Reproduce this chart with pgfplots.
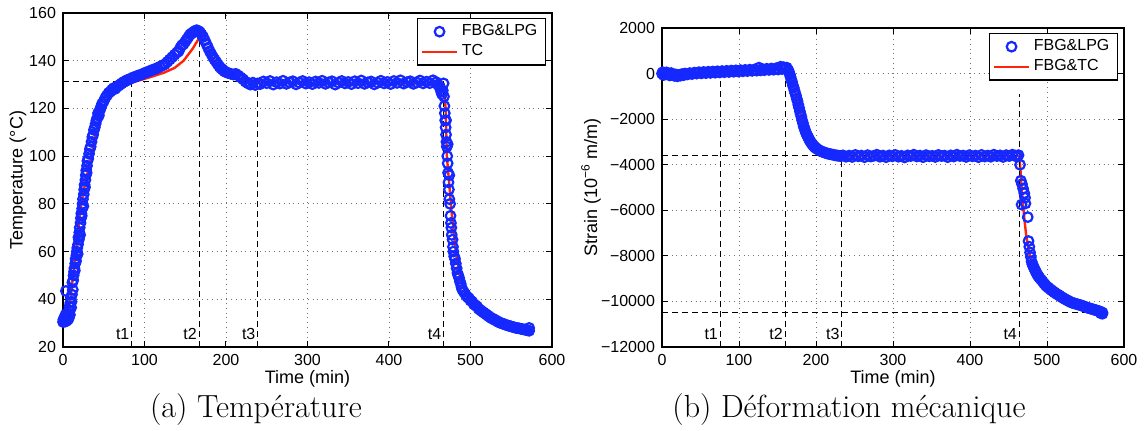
\documentclass[border=0pt]{standalone}
\usepackage{pgfplots}
\pgfplotsset{compat=1.18}
\usepackage{fontspec}
\newfontfamily\axfont{Liberation Sans}
\definecolor{mblue}{RGB}{20,40,255}
\definecolor{mred}{RGB}{255,35,10}
\tikzset{tlab/.style={font=\axfont\fontsize{8}{10}\selectfont, anchor=east, inner sep=1pt}}
\pgfplotsset{
 mlab/.style={
  scale only axis, xmin=0, xmax=600, xtick={0,100,...,600},
  grid=major, grid style={dotted, black!55, line width=0.45pt},
  tick align=inside, major tick length=3pt,
  axis line style={line width=0.6pt}, every tick/.style={black, line width=0.5pt},
  tick label style={font=\axfont\fontsize{8}{10}\selectfont},
  label style={font=\axfont\fontsize{9}{11}\selectfont},
  /pgf/number format/assume math mode=true,
  /pgf/number format/1000 sep={},
  scaled ticks=false,
  xlabel={Time (min)},
  xlabel style={at={(axis description cs:0.5,0)}, anchor=center, yshift=-16pt},
  legend cell align=left,
  legend style={draw=black, line width=0.6pt, fill=white, font=\axfont\fontsize{8}{10}\selectfont, at={(1,1)}, anchor=north east, xshift=-3pt, yshift=-2.5pt, inner xsep=2pt, inner ysep=1pt, row sep=-1pt},
 },
 scatb/.style={only marks, mark=o, mark size=2.4pt, mark options={line width=1.1pt, draw=mblue}, color=mblue},
 redl/.style={mred, line width=1.2pt, no markers},
 dsh/.style={black, line width=0.6pt, dash pattern=on 3pt off 2pt, forget plot, no markers},
}
\begin{document}
\begin{tikzpicture}
\path[use as bounding box] (-31.5pt,-41.5pt) rectangle (541.5pt,173.5pt);
% ---------------- (a) Temperature ----------------
\begin{axis}[mlab, at={(0pt,0pt)}, anchor=south west, width=244.5pt, height=167pt,
  ymin=20, ymax=160, ytick={20,40,...,160},
  ylabel={Temperature (°C)},
  ylabel style={at={([xshift=-22.5pt]axis description cs:0,0.5)}, anchor=center}]
\addplot[scatb] coordinates {
(0,30.5) (0.5,31.5) (1,30.8) (1.5,32) (2,31.2) (2.5,30.6) (3,33.5) (3.5,43.5) (4,32.5) (4.5,31) (5,34) (5.5,32.2) (6,31.5) (6.5,33) (7,32) (7.5,35) (8,37) (8.5,33.5) (9,38.5) (9.5,40.5) (10,36.5) (10.5,39) (11,42) (11.5,47) (12,44) (12.5,48) (13,50) (13.5,51.5) (14,53) (14.5,52) (15,55) (15.5,57) (16,56) (16.5,58.5) (17,60) (17.5,61.5) (18,59) (18.5,63) (19,66) (19.5,65) (20,68) (20.5,70) (21,67) (21.5,72) (22,74) (22.5,76) (23,75) (23.5,78) (24,80) (24.5,82) (25,79) (25.5,84) (26,86) (26.5,88) (27,87) (27.5,90) (28,92) (28.5,94) (29,93) (29.5,96) (30,98) (31,99) (32,101) (33,103) (34,104) (35,106) (36,108) (37,109) (38,111) (39,112) (40,113.5) (41,115) (42,116) (43,118) (44,117) (45,119) (46,120) (47,121) (48,122) (50,123) (52,124.5) (54,125.5) (56,126.5) (58,127) (60,127.8) (62,128.5) (64,128.2) (66,129) (68,129.5) (70,130) (72,130.5) (74,131) (76,131.3) (78,131.8) (80,132) (83,132.5) (86,133) (89,133.3) (92,133.8) (95,134) (98,134.5) (101,135) (104,135.3) (107,135.8) (110,136.2) (113,136.5) (116,137) (119,137.5) (122,138) (125,138.5) (128,139.5) (131,140.5) (134,141.5) (137,142.5) (140,143.5) (142,144) (144,145.5) (146,146.5) (148,147) (150,148) (152,149) (154,150) (156,151) (158,151.5) (160,152) (162,152.5) (164,152.8) (166,152.5) (168,152) (170,151) (172,150) (174,148.5) (176,147) (178,145.5) (180,144) (182,142.8) (184,141.5) (186,140.5) (188,139.5) (190,138.5) (192,137.5) (194,136.8) (196,136.2) (198,135.6) (200,135.2) (203,134.8) (206,134.5) (209,134.2) (212,134.5) (215,133.8) (218,133) (221,132.2) (224,131.2) (227,130.5) (230,130) (233,130.8) (236,129.8) (239,130.5)
(242,130.2) (246,131.3) (250,130.6) (254,131.5) (258,130.0) (262,131.0) (266,130.4) (270,131.6) (274,130.3) (278,130.9) (282,131.4) (286,130.1) (290,130.8) (294,131.5) (298,130.4) (302,131.0) (306,130.2) (310,131.3) (314,130.7) (318,131.6) (322,130.3) (326,130.9) (330,131.4) (334,130.0) (338,130.8) (342,131.5) (346,130.5) (350,131.1) (354,130.2) (358,131.4) (362,130.6) (366,131.7) (370,130.3) (374,130.9) (378,131.3) (382,130.1) (386,130.8) (390,131.6) (394,130.5) (398,131.1) (402,130.2) (406,131.5) (410,130.7) (414,131.8) (418,130.4) (422,131.0) (426,131.4) (430,130.3) (434,130.9) (438,131.7) (442,130.5) (446,131.2) (450,130.6) (454,131.8) (458,131.0)
(460,130) (462,129) (463,128.5) (464,127) (465,126) (466,127.5) (467,130.5) (467.5,125) (468,121) (468.5,118) (469,115) (469.5,112) (470,109) (470,115) (470.5,106) (471,104) (471.5,100) (472,97) (472,105) (472.5,93) (473,89) (473.5,86) (474,82) (474,92) (475,80) (475.5,75) (476,72) (476.5,70) (477,67) (478,65) (478.5,62) (479,60) (480,58) (481,57) (482,55) (483,53) (484,51) (485,50) (486,49) (487,47.5) (488,46.5) (489,45) (490,44) (492,43) (494,42) (496,41) (498,40.5) (500,39.5) (502,39) (504,38) (506,37.5) (508,37) (510,36) (512,35.5) (514,35) (516,34.5) (518,34) (520,33.5) (522,33) (524,32.5) (526,32) (528,31.8) (530,31.3) (532,31) (534,30.5) (536,30.2) (538,30) (540,29.7) (542,29.5) (544,29.2) (546,29) (548,28.8) (550,28.6) (552,28.4) (554,28.2) (556,28) (558,27.9) (560,27.8) (562,27.6) (564,27.5) (566,27.3) (568,27.2) (570,27) (572,26.8) (572,28)
};
\addlegendentry{FBG\&LPG}
\addplot[redl] coordinates {
(3,31) (5,32) (7,36) (9.2,40) (12,49) (15.8,60) (19,70) (22.9,81) (28,90) (35,100) (40,110) (49,120) (58,125) (67,128) (78,130) (89,131.3) (106,133) (124,135) (137,137) (148,140) (159,145) (167,149.5) (174.5,145) (185.5,140) (196.5,136) (212,133) (229.5,131.5) (251,131) (300,130.5) (350,130.3) (400,130.6) (440,130.4) (467,130.3) (468.5,125) (469.5,120) (471,100) (475.6,81.7) (477,76) (479,70) (482,60) (486.6,50) (491,45) (498.5,40) (505,37.3) (513,35) (522,32.8) (533,31) (550,29) (560,28) (572,27)
};
\addlegendentry{TC}
\addplot[dsh] coordinates {(0,131.3) (467,131.3)};
\addplot[dsh] coordinates {(84.4,20) (84.4,131.3)};
\addplot[dsh] coordinates {(167,20) (167,151)};
\addplot[dsh] coordinates {(239,20) (239,131.3)};
\addplot[dsh] coordinates {(467,20) (467,131.3)};
\node[tlab] at (axis cs:84.4,25.5) {t1};
\node[tlab] at (axis cs:167,25.5) {t2};
\node[tlab] at (axis cs:239,25.5) {t3};
\node[tlab] at (axis cs:467,25.5) {t4};
\end{axis}
\node[font=\fontsize{16}{19}\selectfont, anchor=base] at (96.5pt,-35pt) {(a) Température};
% ---------------- (b) Strain ----------------
\begin{axis}[mlab, at={(299.5pt,0pt)}, anchor=south west, width=231pt, height=159.5pt,
  ymin=-12000, ymax=2000, ytick={-12000,-10000,...,2000},
  yticklabels={\mbox{−12000},\mbox{−10000},\mbox{−8000},\mbox{−6000},\mbox{−4000},\mbox{−2000},\mbox{0},\mbox{2000}},
  ylabel={Strain (10\textsuperscript{−6} m/m)},
  ylabel style={at={([xshift=-35.5pt]axis description cs:0,0.5)}, anchor=center}]
\addplot[scatb] coordinates {
(0,0) (1,60) (2,-60) (3,30) (4,-40) (6,50) (8,-20) (10,-80) (12,20) (14,-60) (16,-100) (18,-40) (20,-120) (22,-60) (24,-90) (26,-20) (28,-70) (30,0) (33,-40) (36,20) (39,-20) (42,40) (45,0) (48,60) (51,10) (54,70) (57,20) (60,80) (63,30) (66,90) (69,40) (72,100) (75,50) (78,110) (81,60) (84,120) (87,70) (90,130) (93,80) (96,140) (99,90) (102,150) (105,100) (108,160) (111,110) (114,170) (117,120) (120,180) (123,130) (126,260) (128,140) (130,200) (133,150) (136,210) (139,160) (142,220) (145,170) (148,230) (151,180) (154,300) (156,200) (158,280) (160,220) (162,260)
(164,150) (165,60) (166,-40) (167,-150) (168,-280) (169,-380) (170,-520) (171,-610) (172,-740) (173,-860) (174,-960) (175,-1100) (176,-1210) (177,-1370) (178,-1500) (179,-1650) (180,-1780) (181,-1900) (182,-2060) (183,-2170) (184,-2310) (185,-2400) (186,-2510) (187,-2600) (188,-2680) (189,-2750) (190,-2800) (191,-2890) (192,-2940) (193,-3000) (194,-3050) (195,-3090) (196,-3140) (197,-3180) (198,-3210) (199,-3250) (200,-3270) (202,-3320) (204,-3360) (206,-3400) (208,-3430) (210,-3450) (212,-3480) (214,-3500) (216,-3520) (218,-3530) (220,-3550) (222,-3560) (224,-3580) (226,-3590) (228,-3600) (230,-3610) (232,-3620)
(235,-3590) (239,-3650) (243,-3600) (247,-3660) (251,-3570) (255,-3630) (259,-3600) (263,-3670) (267,-3580) (271,-3640) (275,-3610) (279,-3560) (283,-3650) (287,-3600) (291,-3670) (295,-3590) (299,-3630) (303,-3570) (307,-3650) (311,-3610) (315,-3680) (319,-3590) (323,-3620) (327,-3560) (331,-3640) (335,-3600) (339,-3670) (343,-3580) (347,-3630) (351,-3610) (355,-3660) (359,-3570) (363,-3620) (367,-3600) (371,-3670) (375,-3590) (379,-3640) (383,-3560) (387,-3620) (391,-3600) (395,-3660) (399,-3580) (403,-3630) (407,-3600) (411,-3670) (415,-3570) (419,-3640) (423,-3600) (427,-3650) (431,-3560) (435,-3620) (439,-3590) (443,-3660) (447,-3580) (451,-3620) (455,-3560) (459,-3600) (461,-3650) (463,-3580)
(465,-4000) (466,-4700) (467.5,-4850) (469,-5050) (470.5,-5250) (471.5,-5450) (467,-5750) (472,-5700) (475,-6300) (476,-7350) (477,-7600) (478,-7850) (479,-8050) (480,-8250) (481,-8370) (482,-8440) (483,-8520) (484,-8590) (485,-8660) (486,-8730) (487,-8800) (488,-8850) (489,-8900) (490,-8950) (492,-9030) (494,-9110) (496,-9200) (498,-9280) (500,-9350) (502,-9400) (504,-9460) (506,-9510) (508,-9560) (510,-9610) (512,-9660) (514,-9700) (516,-9740) (518,-9790) (520,-9830) (522,-9870) (524,-9910) (526,-9940) (528,-9980) (530,-10020) (532,-10050) (534,-10070) (536,-10090) (538,-10110) (540,-10130) (542,-10150) (544,-10170) (546,-10190) (548,-10220) (550,-10240) (552,-10270) (554,-10290) (556,-10310) (558,-10330) (560,-10350) (562,-10370) (564,-10390) (566,-10410) (568,-10430) (570,-10460) (572,-10490) (572,-10540) (570,-10520)
};
\addlegendentry{FBG\&LPG}
\addplot[redl] coordinates {
(0,0) (5,-20) (10,-50) (15,-80) (20,-90) (25,-70) (30,-40) (40,-10) (50,5) (60,20) (76,40) (100,85) (128,130) (145,160) (155,170) (161,170) (163,140) (165,60) (167,-120) (170,-490) (172.5,-780) (175,-1070) (177,-1350) (179.5,-1720) (182,-2050) (184,-2300) (186.5,-2540) (189,-2730) (191,-2880) (193.6,-3020) (197,-3170) (200.7,-3280) (205,-3380) (210,-3450) (216,-3510) (222,-3550) (233.5,-3610) (260,-3620) (300,-3625) (350,-3620) (400,-3615) (440,-3610) (461.5,-3610) (464,-3650) (465.5,-4200) (467,-5000) (469,-5800) (471,-6500) (473,-7100) (475.6,-7590) (478,-8000) (480.3,-8310) (484,-8600) (487.3,-8820) (490,-8960) (499,-9320) (505,-9490) (513,-9680) (520,-9830) (532,-10050) (540,-10130) (551,-10260) (560,-10350) (572,-10480)
};
\addlegendentry{FBG\&TC}
\addplot[dsh] coordinates {(0,-3600) (466,-3600)};
\addplot[dsh] coordinates {(0,-10500) (572,-10500)};
\addplot[dsh] coordinates {(75.7,-12000) (75.7,-100)};
\addplot[dsh] coordinates {(160,-12000) (160,300)};
\addplot[dsh] coordinates {(233.5,-12000) (233.5,-3550)};
\addplot[dsh] coordinates {(464,-12000) (464,-900)};
\node[tlab] at (axis cs:75.7,-11450) {t1};
\node[tlab] at (axis cs:160,-11450) {t2};
\node[tlab] at (axis cs:233.5,-11450) {t3};
\node[tlab] at (axis cs:464,-11450) {t4};
\end{axis}
\node[font=\fontsize{16}{19}\selectfont, anchor=base] at (393pt,-35pt) {(b) Déformation mécanique};
\end{tikzpicture}
\end{document}
